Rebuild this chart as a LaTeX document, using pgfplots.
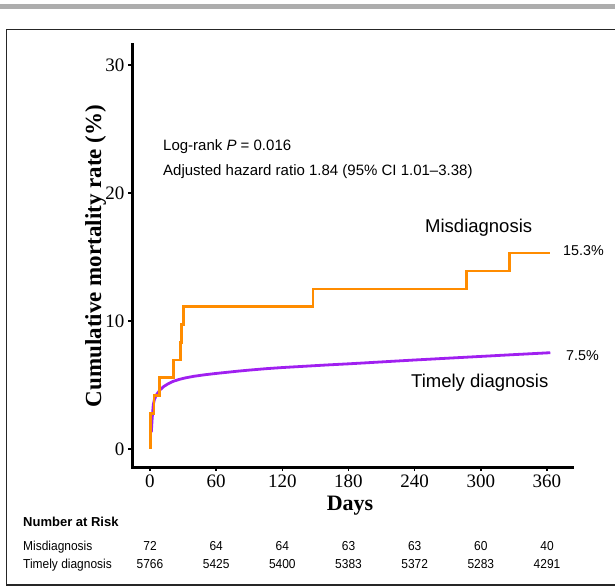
\documentclass[border=0pt]{standalone}
\usepackage{pgfplots}
\pgfplotsset{compat=1.18}
\usepackage{fontspec}
\setmainfont{Liberation Serif}
\newfontfamily\arial{Liberation Sans}
\usepackage{graphicx}
\definecolor{morange}{HTML}{FF8C00}
\definecolor{mpurple}{HTML}{A020F0}
\newcommand{\cond}[1]{\scalebox{0.92}[1]{#1}}
\begin{document}
\begin{tikzpicture}[x=1pt,y=1pt]
\path[use as bounding box] (0,0) rectangle (615,587);
\fill[black!32] (0,577.5) rectangle (615,583);
\draw[black!85, line width=1.6pt] (620,2) -- (6.5,2) -- (6.5,557.5) -- (620,557.5);
\begin{axis}[
  at={(132pt,120pt)}, anchor=south west,
  scale only axis, width=440pt, height=422pt,
  xmin=-16.3, xmax=382.7, ymin=-1.41, ymax=31.56,
  axis lines*=left,
  axis line style={-, line width=3pt, line cap=rect, black},
  xtick={0,60,...,360}, ytick={0,10,20,30},
  tick align=outside, major tick length=4pt,
  tick style={line width=1.4pt, black},
  /pgf/number format/assume math mode=true,
  ticklabel style={font=\fontsize{19}{21}\selectfont},
  clip=false,
]
\addplot[mpurple, line width=2.8pt, line join=round] coordinates {
(1.2,1.3) (2,2.4) (3,3.45) (4,3.85) (6,4.25) (9,4.6) (12,4.85) (16,5.07)
(21,5.28) (26,5.42) (32,5.55) (40,5.68) (50,5.8) (60,5.9) (70,5.99)
(80,6.08) (90,6.16) (105,6.27) (120,6.36) (140,6.46) (160,6.56) (180,6.65)
(210,6.8) (240,6.95) (270,7.09) (300,7.23) (330,7.37) (363,7.52)
};
\addplot[const plot, morange, line width=2.6pt] coordinates {
(0.5,0) (0.5,2.78) (3.6,4.17) (8.4,5.6) (21.1,6.94) (27.6,8.33) (28.6,9.72)
(30.2,11.11) (148,12.5) (287,13.89) (326,15.3) (363,15.3)
};
\end{axis}
\node[anchor=base west, inner sep=0, font=\arial\fontsize{15}{18}\selectfont] at (163,436) {Log-rank \textit{P} = 0.016};
\node[anchor=base west, inner sep=0, font=\arial\fontsize{15}{18}\selectfont] at (163,411) {Adjusted hazard ratio 1.84 (95\% CI 1.01–3.38)};
\node[anchor=base west, inner sep=0, font=\arial\fontsize{18.5}{21}\selectfont] at (425,354) {Misdiagnosis};
\node[anchor=base west, inner sep=0, font=\arial\fontsize{14.3}{17}\selectfont] at (563,331) {15.3\%};
\node[anchor=base west, inner sep=0, font=\arial\fontsize{14.3}{17}\selectfont] at (566,227) {7.5\%};
\node[anchor=base west, inner sep=0, font=\arial\fontsize{18.5}{21}\selectfont] at (411,200) {Timely diagnosis};
\node[anchor=base, inner sep=0, font=\bfseries\fontsize{22}{24}\selectfont] at (350,77) {Days};
\node[rotate=90, anchor=base, inner sep=0, font=\bfseries\fontsize{23}{25}\selectfont] at (101,331) {Cumulative mortality rate (\%)};
\node[anchor=base west, inner sep=0, font=\arial\bfseries\fontsize{13}{15}\selectfont] at (23,61) {Number at Risk};
\node[anchor=base west, inner sep=0, font=\arial\fontsize{13}{15}\selectfont] at (23,37) {\cond{Misdiagnosis}};
\node[anchor=base west, inner sep=0, font=\arial\fontsize{13}{15}\selectfont] at (23,19) {\cond{Timely diagnosis}};
\foreach \d/\a/\b in {0/72/5766, 60/64/5425, 120/64/5400, 180/63/5383, 240/63/5372, 300/60/5283, 360/40/4291} {
  \node[anchor=base, inner sep=0, font=\arial\fontsize{13}{15}\selectfont] at ({150+1.1028*\d},37) {\cond{\a}};
  \node[anchor=base, inner sep=0, font=\arial\fontsize{13}{15}\selectfont] at ({150+1.1028*\d},19) {\cond{\b}};
}
\end{tikzpicture}
\end{document}
